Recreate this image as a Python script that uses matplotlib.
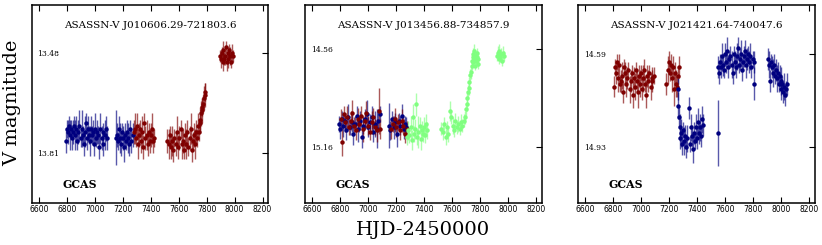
import numpy as np
import matplotlib
matplotlib.use("Agg")
import matplotlib.pyplot as plt

# ---------------------------------------------------------------------------
# light curve data (HJD-2450000, V mag, error)
# ---------------------------------------------------------------------------

# ASASSN-V J010606.29-721803.6
p1_navy_t = [6792, 6800, 6808, 6815, 6822, 6830, 6838, 6845, 6852, 6860, 6868, 6875, 6882, 6890,
             6898, 6905, 6912, 6920, 6928, 6935, 6942, 6950, 6958, 6965, 6972, 6980, 6988, 6995,
             7002, 7010, 7018, 7025, 7032, 7040, 7048, 7055, 7062, 7070, 7078, 7085,
             7150, 7158, 7165, 7172, 7180, 7188, 7195, 7202, 7210, 7218, 7225, 7232, 7240, 7248,
             7255, 7262, 7270]
p1_navy_m = [13.77, 13.73, 13.74, 13.72, 13.75, 13.73, 13.76, 13.74, 13.72, 13.75, 13.73, 13.77, 13.74, 13.72,
             13.76, 13.73, 13.75, 13.78, 13.74, 13.71, 13.76, 13.73, 13.75, 13.77, 13.73, 13.75, 13.74, 13.78,
             13.73, 13.76, 13.74, 13.75, 13.79, 13.73, 13.76, 13.74, 13.78, 13.75, 13.73, 13.76,
             13.76, 13.75, 13.77, 13.73, 13.76, 13.78, 13.74, 13.76, 13.79, 13.75, 13.77, 13.74, 13.76, 13.78,
             13.73, 13.77, 13.75]
p1_navy_e = [0.04, 0.03, 0.04, 0.03, 0.05, 0.03, 0.04, 0.04, 0.03, 0.05, 0.04, 0.03, 0.04, 0.05,
             0.03, 0.06, 0.03, 0.04, 0.05, 0.03, 0.04, 0.04, 0.03, 0.05, 0.04, 0.03, 0.04, 0.04,
             0.05, 0.03, 0.04, 0.03, 0.04, 0.05, 0.04, 0.03, 0.04, 0.05, 0.04, 0.04,
             0.09, 0.04, 0.03, 0.04, 0.05, 0.04, 0.03, 0.04, 0.05, 0.04, 0.03, 0.04, 0.05, 0.04,
             0.03, 0.04, 0.04]

p1_red_t = [7280, 7288, 7295, 7302, 7310, 7318, 7325, 7332, 7340, 7348, 7355, 7362, 7370, 7378,
            7385, 7392, 7400, 7408, 7415, 7420,
            7520, 7530, 7538, 7545, 7555, 7562, 7570, 7580, 7590, 7598, 7605, 7615, 7622, 7630,
            7640, 7648, 7655, 7662, 7670, 7678, 7685, 7692, 7700, 7708, 7715, 7722, 7730, 7738,
            7745, 7750, 7755, 7760, 7765, 7770, 7775, 7780, 7785, 7790,
            7895, 7902, 7908, 7914, 7920, 7926, 7932, 7938, 7944, 7950, 7956, 7962, 7968, 7975,
            7982, 7988]
p1_red_m = [13.74, 13.73, 13.76, 13.72, 13.78, 13.75, 13.73, 13.77, 13.74, 13.79, 13.71, 13.76, 13.75, 13.78,
            13.74, 13.77, 13.75, 13.73, 13.77, 13.76,
            13.77, 13.78, 13.75, 13.79, 13.77, 13.80, 13.76, 13.78, 13.74, 13.79, 13.76, 13.73, 13.78, 13.77,
            13.80, 13.75, 13.78, 13.74, 13.79, 13.76, 13.73, 13.80, 13.77, 13.75, 13.78, 13.74, 13.76, 13.72,
            13.74, 13.70, 13.71, 13.68, 13.66, 13.67, 13.65, 13.63, 13.62, 13.61,
            13.49, 13.50, 13.48, 13.51, 13.47, 13.50, 13.49, 13.46, 13.51, 13.48, 13.50, 13.47, 13.49, 13.51,
            13.48, 13.49]
p1_red_e = [0.04, 0.05, 0.03, 0.04, 0.05, 0.04, 0.03, 0.04, 0.05, 0.04, 0.03, 0.04, 0.05, 0.04,
            0.03, 0.04, 0.04, 0.05, 0.04, 0.03,
            0.04, 0.05, 0.03, 0.04, 0.05, 0.04, 0.03, 0.04, 0.05, 0.04, 0.04, 0.03, 0.05, 0.04,
            0.03, 0.04, 0.05, 0.04, 0.03, 0.04, 0.05, 0.04, 0.03, 0.04, 0.05, 0.04, 0.03, 0.04,
            0.03, 0.04, 0.03, 0.04, 0.03, 0.04, 0.03, 0.04, 0.04, 0.03,
            0.02, 0.03, 0.02, 0.03, 0.03, 0.02, 0.03, 0.02, 0.03, 0.02, 0.03, 0.02, 0.03, 0.02,
            0.03, 0.02]

# ASASSN-V J013456.88-734857.9
p2_navy_t = [6790, 6800, 6812, 6822, 6835, 6845, 6858, 6870, 6882, 6895, 6905, 6918, 6930, 6942,
             6955, 6965, 6978, 6990, 7002, 7015, 7025, 7038, 7048, 7060, 7072, 7082,
             7150, 7160, 7172, 7182, 7195, 7205, 7218, 7230, 7242, 7255, 7265, 7272]
p2_navy_m = [15.02, 15.05, 14.99, 15.03, 15.00, 15.06, 14.98, 15.04, 15.01, 15.08, 15.02, 14.97, 15.05, 15.00,
             15.10, 15.03, 14.99, 14.96, 15.04, 15.01, 14.98, 15.07, 15.02, 15.05, 15.00, 14.96,
             15.03, 15.06, 14.99, 15.04, 15.01, 15.08, 15.00, 15.03, 14.97, 15.05, 15.02, 15.04]
p2_navy_e = [0.05, 0.06, 0.05, 0.07, 0.05, 0.06, 0.08, 0.05, 0.06, 0.07, 0.05, 0.06, 0.08, 0.06,
             0.07, 0.05, 0.06, 0.09, 0.06, 0.05, 0.07, 0.06, 0.08, 0.12, 0.07, 0.05,
             0.14, 0.06, 0.05, 0.07, 0.06, 0.08, 0.05, 0.06, 0.07, 0.06, 0.05, 0.06]

p2_red_t = [6805, 6812, 6825, 6838, 6850, 6862, 6875, 6888, 6900, 6912, 6925, 6938, 6950, 6962,
            6975, 6988, 7000, 7012, 7025, 7038, 7050, 7062, 7075, 7085,
            7165, 7178, 7190, 7202, 7215, 7228, 7240, 7252, 7265, 7275]
p2_red_m = [14.99, 15.13, 14.96, 15.01, 14.98, 15.04, 15.00, 14.95, 15.03, 15.06, 14.99, 15.02, 14.97, 15.05,
            15.00, 14.95, 15.03, 15.07, 15.01, 14.98, 15.04, 15.06, 14.94, 15.05,
            15.05, 15.02, 14.99, 15.04, 15.01, 15.06, 15.00, 15.03, 15.08, 15.05]
p2_red_e = [0.06, 0.09, 0.05, 0.06, 0.07, 0.05, 0.06, 0.08, 0.05, 0.06, 0.07, 0.05, 0.06, 0.08,
            0.05, 0.07, 0.06, 0.05, 0.07, 0.06, 0.05, 0.07, 0.14, 0.06,
            0.06, 0.05, 0.07, 0.06, 0.05, 0.06, 0.07, 0.05, 0.06, 0.05]

p2_green_t = [7280, 7288, 7296, 7304, 7312, 7320, 7328, 7336, 7344, 7352, 7360, 7368, 7376, 7384,
              7392, 7400, 7408, 7416, 7424,
              7525, 7535, 7545, 7555, 7565, 7575, 7585, 7595, 7605, 7615, 7625, 7635, 7645, 7655,
              7665, 7675, 7685, 7695,
              7700, 7705, 7710, 7715, 7720, 7725, 7730, 7735, 7740, 7745, 7750,
              7748, 7752, 7756, 7760, 7764, 7768, 7772, 7776, 7780, 7784, 7788,
              7922, 7928, 7934, 7940, 7946, 7952, 7958, 7964, 7970]
p2_green_m = [15.10, 15.06, 15.09, 15.04, 15.12, 14.98, 15.08, 15.05, 14.90, 15.10, 15.07, 15.03, 15.11, 15.06,
              15.08, 15.04, 15.09, 15.02, 15.06,
              15.05, 15.07, 15.02, 15.10, 15.04, 15.08, 14.94, 14.98, 15.03, 15.06, 15.00, 15.04, 15.02, 15.05,
              15.01, 15.03, 15.00, 14.98,
              14.93, 14.90, 14.86, 14.82, 14.80, 14.76, 14.72, 14.70, 14.66, 14.63, 14.61,
              14.59, 14.64, 14.57, 14.62, 14.66, 14.60, 14.63, 14.58, 14.61, 14.65, 14.62,
              14.60, 14.58, 14.62, 14.57, 14.61, 14.59, 14.63, 14.58, 14.60]
p2_green_e = [0.05, 0.06, 0.05, 0.07, 0.06, 0.08, 0.05, 0.06, 0.07, 0.05, 0.10, 0.05, 0.07, 0.06,
              0.05, 0.06, 0.05, 0.06, 0.05,
              0.04, 0.05, 0.04, 0.05, 0.04, 0.05, 0.06, 0.04, 0.05, 0.04, 0.05, 0.04, 0.05, 0.04,
              0.05, 0.04, 0.04, 0.04,
              0.04, 0.04, 0.03, 0.04, 0.04, 0.03, 0.04, 0.04, 0.03, 0.04, 0.04,
              0.04, 0.03, 0.04, 0.04, 0.03, 0.04, 0.04, 0.03, 0.04, 0.03, 0.04,
              0.03, 0.04, 0.03, 0.04, 0.03, 0.04, 0.03, 0.04, 0.03]

# ASASSN-V J021421.64-740047.6
p3_red_t = [6805, 6812, 6820, 6828, 6835, 6842, 6850, 6858, 6865, 6872, 6880, 6888, 6895, 6902,
            6910, 6918, 6925, 6932, 6940, 6948, 6955, 6962, 6970, 6978, 6985, 6992, 7000, 7008,
            7015, 7022, 7030, 7038, 7045, 7052, 7060, 7068, 7075, 7082, 7090,
            7182, 7190, 7198, 7205, 7212, 7220, 7228, 7235, 7242, 7250, 7258, 7265, 7272]
p3_red_m = [14.71, 14.64, 14.66, 14.62, 14.68, 14.63, 14.70, 14.69, 14.67, 14.73, 14.64, 14.66, 14.70, 14.68,
            14.65, 14.72, 14.69, 14.66, 14.74, 14.68, 14.71, 14.65, 14.69, 14.73, 14.67, 14.70, 14.66, 14.72,
            14.68, 14.65, 14.70, 14.74, 14.67, 14.69, 14.66, 14.71, 14.68, 14.69, 14.67,
            14.70, 14.65, 14.62, 14.66, 14.63, 14.68, 14.64, 14.72, 14.66, 14.70, 14.71, 14.67, 14.64]
p3_red_e = [0.04, 0.03, 0.04, 0.03, 0.05, 0.04, 0.03, 0.04, 0.05, 0.04, 0.03, 0.04, 0.05, 0.04,
            0.03, 0.05, 0.04, 0.03, 0.05, 0.04, 0.05, 0.03, 0.04, 0.06, 0.04, 0.05, 0.03, 0.04,
            0.05, 0.04, 0.03, 0.05, 0.04, 0.04, 0.03, 0.05, 0.04, 0.04, 0.03,
            0.04, 0.05, 0.04, 0.03, 0.04, 0.05, 0.04, 0.06, 0.04, 0.05, 0.04, 0.03, 0.04]

p3_navy_t = [7262, 7266, 7270, 7276, 7282, 7288, 7295, 7302, 7310, 7318, 7325, 7332, 7340, 7348,
             7355, 7362, 7370, 7378, 7385, 7392, 7400, 7408, 7415, 7422, 7430, 7438, 7445,
             7548, 7552, 7558, 7565, 7572, 7580, 7588, 7595, 7602, 7610, 7618, 7625, 7632, 7640,
             7648, 7655, 7662, 7670, 7678, 7685, 7692, 7700, 7708, 7715, 7722, 7730, 7738, 7745,
             7752, 7760, 7768, 7775, 7782, 7790, 7798, 7805, 7810,
             7912, 7918, 7925, 7932, 7938, 7945, 7952, 7958, 7965, 7972, 7978, 7985, 7992, 7998,
             8005, 8012, 8018, 8025, 8032, 8038, 8045]
p3_navy_m = [14.72, 14.78, 14.82, 14.86, 14.90, 14.88, 14.92, 14.87, 14.91, 14.89, 14.93, 14.90, 14.79, 14.92,
             14.86, 14.89, 14.94, 14.88, 14.91, 14.86, 14.90, 14.84, 14.88, 14.86, 14.89, 14.83, 14.85,
             14.64, 14.88, 14.66, 14.62, 14.64, 14.60, 14.63, 14.65, 14.59, 14.62, 14.58, 14.64, 14.61, 14.60,
             14.63, 14.66, 14.59, 14.62, 14.64, 14.60, 14.57, 14.63, 14.61, 14.59, 14.65, 14.62, 14.60, 14.58,
             14.63, 14.61, 14.59, 14.62, 14.60, 14.64, 14.61, 14.70, 14.62,
             14.61, 14.63, 14.69, 14.62, 14.64, 14.66, 14.63, 14.67, 14.65, 14.68, 14.66, 14.70, 14.67, 14.69,
             14.72, 14.70, 14.73, 14.71, 14.74, 14.72, 14.70]
p3_navy_e = [0.04, 0.05, 0.04, 0.05, 0.04, 0.05, 0.04, 0.03, 0.05, 0.04, 0.04, 0.05, 0.04, 0.03,
             0.05, 0.04, 0.05, 0.04, 0.03, 0.05, 0.04, 0.05, 0.04, 0.05, 0.04, 0.05, 0.04,
             0.04, 0.12, 0.04, 0.03, 0.04, 0.05, 0.04, 0.03, 0.04, 0.04, 0.05, 0.04, 0.03, 0.04,
             0.05, 0.04, 0.03, 0.04, 0.04, 0.05, 0.04, 0.03, 0.04, 0.05, 0.04, 0.03, 0.04, 0.04,
             0.05, 0.04, 0.03, 0.04, 0.05, 0.04, 0.03, 0.06, 0.04,
             0.04, 0.05, 0.04, 0.03, 0.04, 0.05, 0.04, 0.03, 0.04, 0.05, 0.04, 0.03, 0.04, 0.05,
             0.04, 0.03, 0.04, 0.05, 0.04, 0.03, 0.04]

names = ["ASASSN-V J010606.29-721803.6",
         "ASASSN-V J013456.88-734857.9",
         "ASASSN-V J021421.64-740047.6"]
yticks = [[13.48, 13.81], [14.56, 15.16], [14.59, 14.93]]
ylims = [(13.976, 13.321), (15.505, 14.289), (15.135, 14.413)]
xticks = [6600, 6800, 7000, 7200, 7400, 7600, 7800, 8000, 8200]

NAVY = "#00007f"
RED = "#7f0000"
GREEN = "#80ff80"

series = [
    [(p1_navy_t, p1_navy_m, p1_navy_e, NAVY), (p1_red_t, p1_red_m, p1_red_e, RED)],
    [(p2_navy_t, p2_navy_m, p2_navy_e, NAVY), (p2_red_t, p2_red_m, p2_red_e, RED),
     (p2_green_t, p2_green_m, p2_green_e, GREEN)],
    [(p3_red_t, p3_red_m, p3_red_e, RED), (p3_navy_t, p3_navy_m, p3_navy_e, NAVY)],
]

# ---------------------------------------------------------------------------
# figure
# ---------------------------------------------------------------------------
fig = plt.figure(figsize=(8.22, 2.45), dpi=100)
lefts = [0.0385, 0.371, 0.703]
width = 0.288
bottom, top = 0.173, 0.978

for i in range(3):
    ax = fig.add_axes([lefts[i], bottom, width, top - bottom])
    for t, m, e, c in series[i]:
        _, _, bars = ax.errorbar(t, m, yerr=e, fmt='o', color=c, ms=3.2, mew=0,
                                 elinewidth=1.0, capsize=0)
        for b in bars:
            b.set_alpha(0.65)

    ax.set_xlim(6548, 8242)
    ax.set_ylim(*ylims[i])
    ax.set_xticks(xticks)
    ax.set_yticks(yticks[i])
    ax.set_yticklabels([f"{v:.2f}" for v in yticks[i]], fontfamily='DejaVu Serif', fontsize=5.5)
    ax.tick_params(axis='x', direction='in', top=True, bottom=True, length=4,
                   labelsize=5.5, pad=2)
    ax.tick_params(axis='y', direction='in', left=False, right=True, length=4, pad=-20)
    for s in ax.spines.values():
        s.set_linewidth(1.1)

    ax.text(0.5, 0.90, names[i], transform=ax.transAxes, ha='center', va='center',
            fontfamily='DejaVu Serif', fontsize=7.5)
    ax.text(0.13, 0.09, "GCAS", transform=ax.transAxes, ha='left', va='center',
            fontfamily='DejaVu Serif', fontweight='bold', fontsize=7.8)

fig.text(0.015, 0.58, "V magnitude", rotation=90, ha='center', va='center',
         fontfamily='DejaVu Serif', fontsize=14)
fig.text(0.515, 0.06, "HJD-2450000", ha='center', va='center',
         fontfamily='DejaVu Serif', fontsize=14)

fig.savefig("out.png", dpi=100)
